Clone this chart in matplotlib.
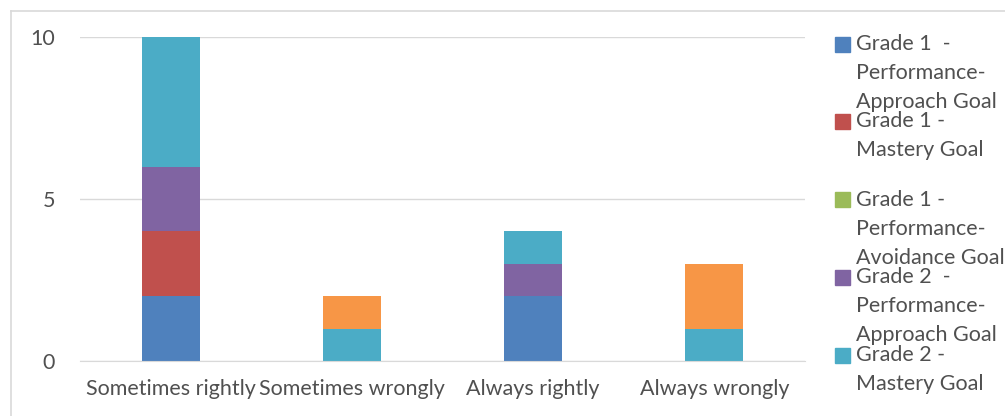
import matplotlib
matplotlib.use('Agg')
from matplotlib import pyplot as plt
from matplotlib.patches import Rectangle
from matplotlib.lines import Line2D
import numpy as np

plt.rcParams['font.family'] = ['Lato', 'DejaVu Sans']

categories = ['Sometimes rightly', 'Sometimes wrongly', 'Always rightly', 'Always wrongly']

g1_approach = [2, 0, 2, 0]
g1_mastery = [2, 0, 0, 0]
g1_avoidance = [0, 0, 0, 0]
g2_approach = [2, 0, 1, 0]
g2_mastery = [4, 1, 1, 1]
g2_avoidance = [0, 1, 0, 2]

series = [
    ('Grade 1  -\nPerformance-\nApproach Goal', g1_approach, '#4F81BD'),
    ('Grade 1 -\nMastery Goal', g1_mastery, '#C0504D'),
    ('Grade 1 -\nPerformance-\nAvoidance Goal', g1_avoidance, '#9BBB59'),
    ('Grade 2  -\nPerformance-\nApproach Goal', g2_approach, '#8064A2'),
    ('Grade 2 -\nMastery Goal', g2_mastery, '#4BACC6'),
    ('Grade 2 -\nPerformance-\nAvoidance Goal', g2_avoidance, '#F79646'),
]

text_col = '#505050'
grid_col = '#D9D9D9'
fsize = 15.5

fig = plt.figure(figsize=(10.05, 4.16), dpi=100)
ax = fig.add_axes([80/1005, 55/416, 725/1005, 324/416])

x = np.arange(len(categories))
bottom = np.zeros(len(categories))
for label, vals, col in series:
    ax.bar(x, vals, 0.32, bottom=bottom, color=col, zorder=3)
    bottom += np.array(vals)

ax.set_xlim(-0.5, len(categories) - 0.5)
ax.set_ylim(0, 10)
ax.set_yticks([0, 5, 10])
ax.set_xticks(x)
ax.set_xticklabels(categories)
ax.yaxis.grid(True, color=grid_col, linewidth=1, zorder=0)
for s in ['top', 'right', 'left']:
    ax.spines[s].set_visible(False)
ax.spines['bottom'].set_color(grid_col)
ax.spines['bottom'].set_zorder(4)
ax.tick_params(axis='both', length=0, labelsize=fsize, labelcolor=text_col)
ax.tick_params(axis='y', pad=18)
ax.tick_params(axis='x', pad=13)

# legend drawn by hand: square beside the first line of each label
# (the sixth entry is cut off in the original chart)
legend_y = [44, 121, 200, 277, 355]
for (label, vals, col), y in zip(series[:5], legend_y):
    fig.patches.append(Rectangle((835/1005, 1 - (y + 7.5)/416), 15/1005, 15/416,
                                 transform=fig.transFigure, color=col))
    fig.text(856/1005, 1 - (y - 10)/416, label, ha='left', va='top',
             fontsize=fsize, color=text_col, linespacing=1.55)

# outer chart frame
fig.add_artist(Line2D([11/1005, 1], [1 - 11/416, 1 - 11/416], color=grid_col,
                      linewidth=1.2, transform=fig.transFigure))
fig.add_artist(Line2D([11/1005, 11/1005], [0, 1 - 11/416], color=grid_col,
                      linewidth=1.2, transform=fig.transFigure))

fig.savefig('out.png', dpi=100)
